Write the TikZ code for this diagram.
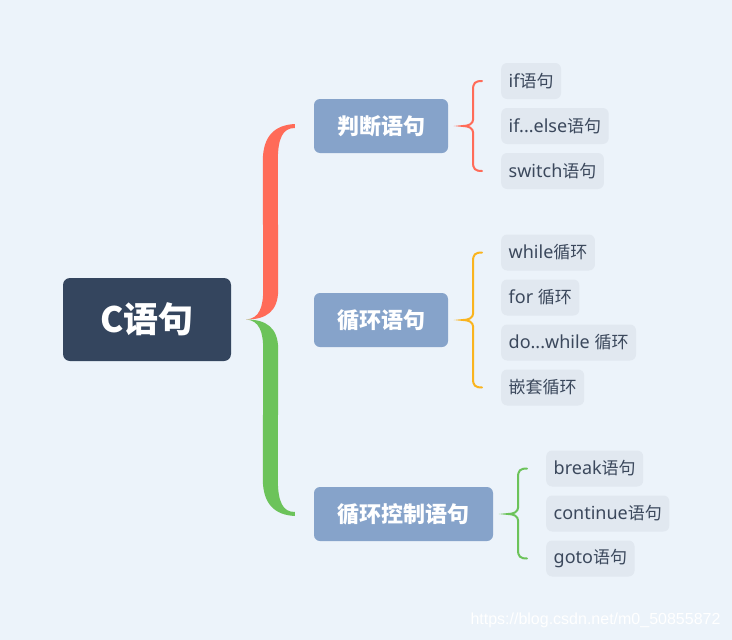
\documentclass[tikz,border=0pt]{standalone}
\usepackage{fontspec}
\setmainfont{Noto Sans}
\newfontfamily\cjk{Noto Sans CJK SC}
\newfontfamily\wmfont{Liberation Sans}
\newcommand{\zh}[1]{{\cjk\fontsize{17}{20}\selectfont #1}}
\usetikzlibrary{calc}
\definecolor{bg}{HTML}{ECF3FA}
\definecolor{rootcol}{HTML}{34455E}
\definecolor{topiccol}{HTML}{86A3CA}
\definecolor{leafcol}{HTML}{E1E8F0}
\definecolor{leaftext}{HTML}{3B485C}
\definecolor{bred}{HTML}{FF6B58}
\definecolor{bgreen}{HTML}{6CC35A}
\definecolor{byellow}{HTML}{FAB41E}
\tikzset{
  rootbox/.style={fill=rootcol, rounded corners=7pt, minimum width=168pt, minimum height=83pt,
    text=white, font=\cjk\fontsize{35}{40}\selectfont\bfseries},
  topicbox/.style={fill=topiccol, rounded corners=6pt, minimum width=134pt, minimum height=54pt,
    inner xsep=20pt, text=white, font=\cjk\fontsize{22}{26}\selectfont\bfseries},
  leafbox/.style={fill=leafcol, rounded corners=6pt, minimum height=36pt, inner xsep=7.5pt,
    anchor=west, text=leaftext, font=\fontsize{18}{21}\selectfont},
  twig/.style={line width=2pt, line cap=round}
}
% big tapered brace: colour, tip, end, direction (1 up, -1 down)
\newcommand{\bigbrace}[4]{%
  \fill[#1] (#2) .. controls ($(#2)+(13,{-1*#4})$) and ($(#2)+(17,{-12*#4})$) .. ($(#2)+(17,{-30*#4})$)
    -- ($(#3)+(-32,{35*#4})$) .. controls ($(#3)+(-32,{10*#4})$) and ($(#3)+(-20,{-1*#4})$) .. ($(#3)+(0,{-2*#4})$)
    -- ($(#3)+(0,{2*#4})$) .. controls ($(#3)+(-12,{2*#4})$) and ($(#3)+(-17,{12*#4})$) .. ($(#3)+(-17,{35*#4})$)
    -- ($(#2)+(32,{-30*#4})$) .. controls ($(#2)+(32,{-8*#4})$) and ($(#2)+(20,0)$) .. (#2) -- cycle;}
% thin brace: colour, tip, top end, bottom end
\newcommand{\smallbrace}[4]{%
  \draw[twig, #1] (#3) .. controls +(-7,0) and +(0,-7) .. ($(#3)+(-9,9)$)
    -- ($(#2)+(10,-7)$) .. controls +(0,5) and +(5,0) .. (#2)
    .. controls +(5,0) and +(0,-5) .. ($(#2)+(10,7)$)
    -- ($(#4)+(-9,-9)$) .. controls +(0,7) and +(-7,0) .. (#4);}
\begin{document}
\begin{tikzpicture}[x=1pt, y=-1pt]
\fill[bg] (0,0) rectangle (732,640);
\useasboundingbox (0,0) rectangle (732,640);

\node[rootbox] (root) at (147,319.5) {C语句};

\node[topicbox] (t1) at (381,126) {判断语句};
\node[topicbox] (t2) at (381,320) {循环语句};
\node[topicbox, minimum width=179pt] (t3) at (403.5,514) {循环控制语句};

\node[leafbox] (a1) at (501,81) {if\zh{语句}};
\node[leafbox] (a2) at (501,126) {if...else\zh{语句}};
\node[leafbox] (a3) at (501,171) {switch\zh{语句}};

\node[leafbox] (b1) at (501,252.5) {while\zh{循环}};
\node[leafbox] (b2) at (501,297.5) {for \zh{循环}};
\node[leafbox] (b3) at (501,342.5) {do...while \zh{循环}};
\node[leafbox] (b4) at (501,387.5) {\zh{嵌套循环}};

\node[leafbox] (c1) at (546,468.5) {break\zh{语句}};
\node[leafbox] (c2) at (546,513.5) {continue\zh{语句}};
\node[leafbox] (c3) at (546,558.5) {goto\zh{语句}};

\coordinate (tip) at ($(root.east)+(15,0)$);
\coordinate (end1) at ($(t1.west)+(-19,0)$);
\coordinate (end3) at ($(t3.west)+(-19,0)$);
\bigbrace{bred}{tip}{end1}{1}
\bigbrace{bgreen}{tip}{end3}{-1}

\smallbrace{bred}{$(t1.east)+(15,0)$}{$(a1.west)+(-19,0)$}{$(a3.west)+(-19,0)$}
\smallbrace{byellow}{$(t2.east)+(15,0)$}{$(b1.west)+(-19,0)$}{$(b4.west)+(-19,0)$}
\smallbrace{bgreen}{$(t3.east)+(15,0)$}{$(c1.west)+(-19,0)$}{$(c3.west)+(-19,0)$}

\node[text=white, font=\wmfont\fontsize{16}{19}\selectfont, anchor=east] (mark) at (724,620) {https://blog.csdn.net/m0\_50855872};
\end{tikzpicture}
\end{document}
